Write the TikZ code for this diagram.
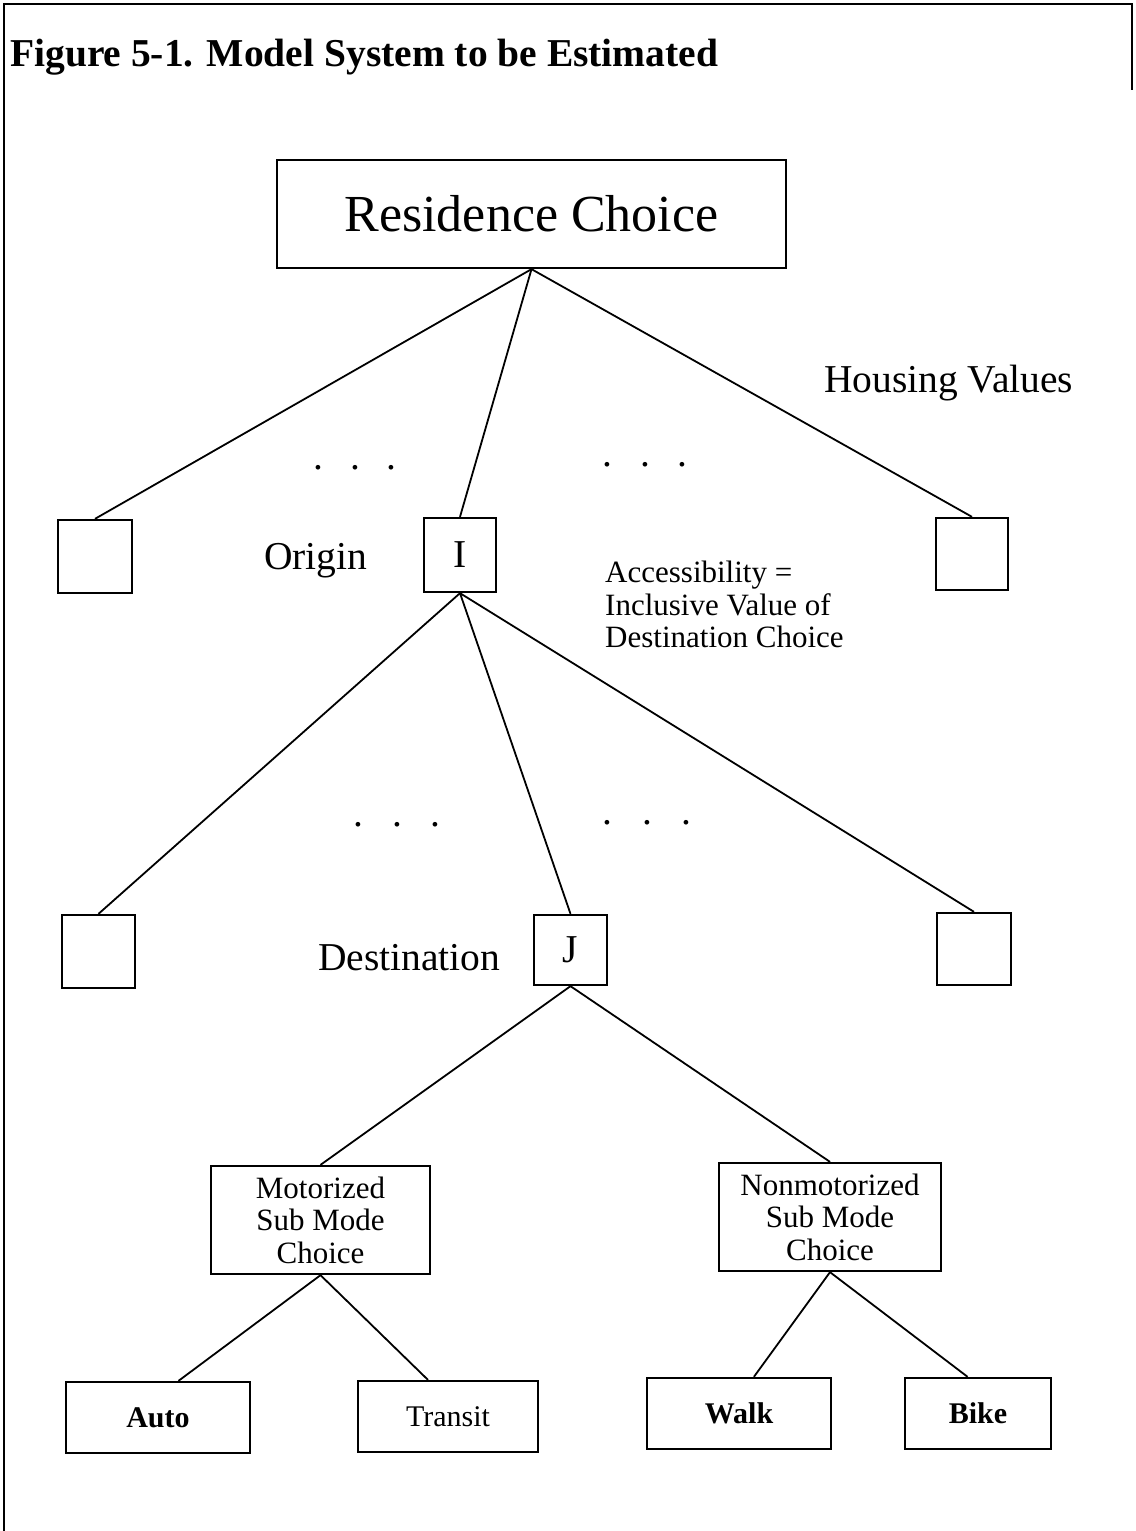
\documentclass[tikz,border=0pt]{standalone}
\usepackage{fontspec}
\setmainfont{Liberation Serif}
\usetikzlibrary{calc}
\tikzset{
  box/.style={draw, line width=2.3pt, inner sep=0pt, align=center},
  link/.style={line width=1.8pt},
  frame/.style={line width=2pt},
  lbl/.style={inner sep=0pt},
  big/.style={font=\fontsize{39.5}{45}\selectfont},
  mid/.style={font=\fontsize{31}{32.5}\selectfont},
  leaf/.style={font=\fontsize{30}{34}\selectfont},
}
\begin{document}
\begin{tikzpicture}[x=1pt,y=-1pt]
\useasboundingbox (0,0) rectangle (1135,1531);
% frame
\coordinate (f1) at (4,1531);
\coordinate (f2) at (4,4);
\coordinate (f3) at (1132,4);
\coordinate (f4) at (1132,90);
\draw[frame] (f1) -- (f2) -- (f3) -- (f4);
% title
\node[lbl, anchor=base west, font=\fontsize{39.5}{45}\selectfont\bfseries] (title) at (10,66) {Figure 5-1. Model System to be Estimated};
% boxes
\node[box, minimum width=509pt, minimum height=108pt, font=\fontsize{52}{60}\selectfont] (res) at (531.5,214) {Residence Choice};
\node[box, minimum width=74pt, minimum height=73pt] (L1) at (95,556.5) {};
\node[box, big, minimum width=72pt, minimum height=74pt] (I) at (460,555) {I};
\node[box, minimum width=72pt, minimum height=72pt] (R1) at (972,554) {};
\node[box, minimum width=73pt, minimum height=73pt] (L2) at (98.5,951.5) {};
\node[box, big, minimum width=73pt, minimum height=70pt] (J) at (570.5,950) {J};
\node[box, minimum width=74pt, minimum height=72pt] (R2) at (974,949) {};
\node[box, mid, minimum width=219pt, minimum height=108pt] (mot) at (320.5,1220) {Motorized\\Sub Mode\\Choice};
\node[box, mid, minimum width=222pt, minimum height=108pt] (non) at (830,1217) {Nonmotorized\\Sub Mode\\Choice};
\node[box, leaf, minimum width=184pt, minimum height=71pt] (auto) at (158,1417.5) {\bfseries Auto};
\node[box, leaf, minimum width=180pt, minimum height=71pt] (transit) at (448,1416.5) {Transit};
\node[box, leaf, minimum width=184pt, minimum height=71pt] (walk) at (739,1413.5) {\bfseries Walk};
\node[box, leaf, minimum width=146pt, minimum height=71pt] (bike) at (978,1413.5) {\bfseries Bike};
% labels
\node[lbl, big, anchor=base west] (housing) at (824,392) {Housing Values};
\node[lbl, big, anchor=base west] (origin) at (264,569) {Origin};
\node[lbl, big, anchor=base west] (dest) at (318,970) {Destination};
\node[lbl, mid, anchor=north west, align=left] (acc) at (605,561) {Accessibility =\\Inclusive Value of\\Destination Choice};
% dots
\node[lbl, big] (d1) at (355,468) {.\hspace{27pt}.\hspace{27pt}.};
\node[lbl, big] (d2) at (645,465) {.\hspace{28pt}.\hspace{28pt}.};
\node[lbl, big] (d3) at (397,825) {.\hspace{29pt}.\hspace{29pt}.};
\node[lbl, big] (d4) at (647,823) {.\hspace{30pt}.\hspace{30pt}.};
% connectors
\draw[link] (res.south) -- (L1.north);
\draw[link] (res.south) -- (I.north);
\draw[link] (res.south) -- (R1.north);
\draw[link] (I.south) -- (L2.north);
\draw[link] (I.south) -- (J.north);
\draw[link] (I.south) -- (R2.north);
\draw[link] (J.south) -- (mot.north);
\draw[link] (J.south) -- (non.north);
\draw[link] (mot.south) -- ($(auto.north west)!0.61!(auto.north east)$);
\draw[link] (mot.south) -- ($(transit.north west)!0.39!(transit.north east)$);
\draw[link] (non.south) -- ($(walk.north west)!0.58!(walk.north east)$);
\draw[link] (non.south) -- ($(bike.north west)!0.43!(bike.north east)$);
\end{tikzpicture}
\end{document}
